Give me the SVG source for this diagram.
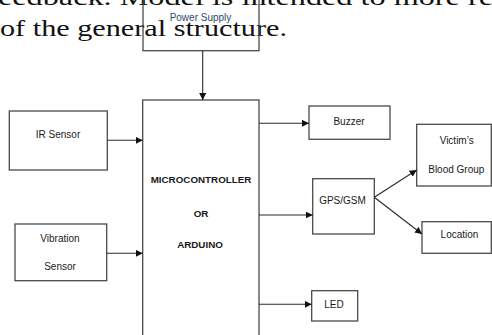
<svg xmlns="http://www.w3.org/2000/svg" width="492" height="335" viewBox="0 0 492 335">
<style>
.bg{fill:#fff}
.box{fill:none;stroke:#4a4a4a;stroke-width:1.3}
.t{font-family:"Liberation Sans",Arial,sans-serif;font-size:10px;fill:#1a1a1a;text-anchor:middle;dominant-baseline:central}
.b{font-weight:bold;font-size:9.8px}
.ps{fill:#2f4a6a}
.serif{font-family:"Liberation Serif","DejaVu Serif",serif;font-size:23px;fill:#111}
.c{fill:none;stroke:#2a2a2a;stroke-width:1.1;marker-end:url(#ah)}
</style>
<defs>
<marker id="ah" viewBox="0 0 8 8" refX="8" refY="4" markerWidth="7" markerHeight="7" markerUnits="userSpaceOnUse" orient="auto">
<path d="M0,0 L8,4 L0,8 z" fill="#111"/>
</marker>
</defs>
<rect class="bg" x="0" y="0" width="492" height="335"/>
<g id="page-text">
<text class="serif" x="-2" y="5" textLength="495" lengthAdjust="spacingAndGlyphs">eedback. Model is intended to more re</text>
<text class="serif" x="0" y="36" textLength="287" lengthAdjust="spacingAndGlyphs">of the general structure.</text>
</g>
<g id="power-supply">
<rect class="box" x="143" y="-2" width="116" height="52.7"/>
<text class="t ps" x="200.5" y="17">Power Supply</text>
</g>
<g id="mcu">
<rect class="box" x="142.7" y="100" width="116.3" height="245"/>
<text class="t b" x="201" y="179">MICROCONTROLLER</text>
<text class="t b" x="201" y="213">OR</text>
<text class="t b" x="200" y="244">ARDUINO</text>
</g>
<g id="ir-sensor">
<rect class="box" x="9.3" y="111" width="98" height="59"/>
<text class="t" x="58" y="134">IR Sensor</text>
</g>
<g id="vibration-sensor">
<rect class="box" x="15" y="224" width="91.7" height="56.7"/>
<text class="t" x="60" y="238.3">Vibration</text>
<text class="t" x="60" y="266.7">Sensor</text>
</g>
<g id="buzzer">
<rect class="box" x="309" y="106" width="81" height="33.3"/>
<text class="t" x="349" y="121">Buzzer</text>
</g>
<g id="gps-gsm">
<rect class="box" x="312.7" y="178.7" width="61.6" height="55.3"/>
<text class="t" x="342.5" y="200">GPS/GSM</text>
</g>
<g id="victims-blood-group">
<rect class="box" x="416.7" y="124.3" width="74.6" height="61.7"/>
<text class="t" x="456.7" y="140.7">Victim’s</text>
<text class="t" x="456.3" y="169.3">Blood Group</text>
</g>
<g id="location">
<rect class="box" x="422" y="221.7" width="69.3" height="31.6"/>
<text class="t" x="459.5" y="234.3">Location</text>
</g>
<g id="led">
<rect class="box" x="311.7" y="290.7" width="46" height="30.3"/>
<text class="t" x="334" y="304.3">LED</text>
</g>
<g id="connectors">
<path class="c" d="M202.7,50.7 V100"/>
<path class="c" d="M107.3,140.3 H142.7"/>
<path class="c" d="M106.7,253.3 H142.7"/>
<path class="c" d="M259,123.3 H309"/>
<path class="c" d="M259,215 H312.7"/>
<path class="c" d="M259,304.3 H311.7"/>
<path class="c" d="M374.3,197.3 L416.7,170"/>
<path class="c" d="M374.3,197.3 L422,234"/>
</g>
</svg>
